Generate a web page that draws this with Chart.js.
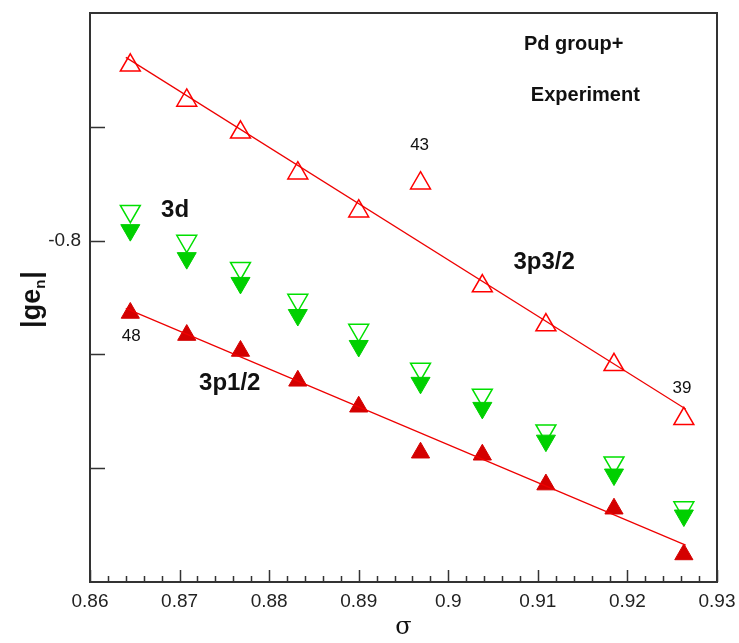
<!DOCTYPE html>
<html>
<head>
<meta charset="UTF-8">
<script src="https://cdn.jsdelivr.net/npm/chart.js@4/dist/chart.umd.min.js"></script>
<style>
body{margin:0;background:#fff}
</style>
</head>
<body>
<canvas id="myChart" width="739" height="643"></canvas>
<script>
// sigma for Z = 48 ... 39
var sigma = [0.8645, 0.8708, 0.8768, 0.8832, 0.8900, 0.8969, 0.9038, 0.9109, 0.9185, 0.9263];
// 3p3/2 open up triangles
var p32 = [-0.7230, -0.7384, -0.7524, -0.7704, -0.7871, -0.7748, -0.8200, -0.8371, -0.8546, -0.8783];
// 3p1/2 filled up triangles
var p12 = [-0.8318, -0.8415, -0.8485, -0.8616, -0.8730, -0.8932, -0.8941, -0.9072, -0.9178, -0.9379];
// 3d open down triangles
var d3open = [-0.7871, -0.8002, -0.8121, -0.8261, -0.8393, -0.8564, -0.8678, -0.8835, -0.8976, -0.9173];
// 3d filled down triangles
var d3fill = [-0.7954, -0.8077, -0.8186, -0.8327, -0.8463, -0.8625, -0.8735, -0.8879, -0.9028, -0.9208];
// fitted lines (end points)
var fitX = [0.8640, 0.9265];
var fit32 = [-0.7195, -0.8740];
var fit12 = [-0.8298, -0.9338];
// ticks
var xTicks = [0.86, 0.87, 0.88, 0.89, 0.90, 0.91, 0.92, 0.93];
var yTicks = [-0.75, -0.8, -0.85, -0.9];
var yLabelled = [-0.8];
// text labels [text, x, y, font]
var notes = [
	["Pd group+", 0.9140, -0.7140, "bold 20px 'Liberation Sans', Arial"],
	["Experiment", 0.9153, -0.7364, "bold 20px 'Liberation Sans', Arial"],
	["3d", 0.8695, -0.7868, "bold 24px 'Liberation Sans', Arial"],
	["3p3/2", 0.9107, -0.8096, "bold 24px 'Liberation Sans', Arial"],
	["3p1/2", 0.8756, -0.8627, "bold 24px 'Liberation Sans', Arial"],
	["43", 0.8968, -0.7583, "17px 'Liberation Sans', Arial"],
	["48", 0.8646, -0.8421, "17px 'Liberation Sans', Arial"],
	["39", 0.9261, -0.8649, "17px 'Liberation Sans', Arial"]
];

function pts(xs, ys){
	var out = [];
	for (var i = 0; i < xs.length; i++) out.push({x: xs[i], y: ys[i]});
	return out;
}

var decor = {
	id: 'decor',
	afterDraw: function(chart){
		var c = chart.ctx, a = chart.chartArea;
		var sx = chart.scales.x, sy = chart.scales.y;
		c.save();
		c.strokeStyle = '#333';
		c.lineWidth = 2;
		c.strokeRect(a.left, a.top, a.right - a.left, a.bottom - a.top);
		c.lineWidth = 1.5;
		c.beginPath();
		// y ticks, inward
		for (var i = 0; i < yTicks.length; i++){
			var py = Math.round(sy.getPixelForValue(yTicks[i])) + 0.5;
			c.moveTo(a.left, py); c.lineTo(a.left + 15, py);
		}
		// x ticks, inward
		for (var k = 0; k <= 35; k++){
			var v = 0.86 + k * 0.002;
			var px = Math.round(sx.getPixelForValue(v)) + 0.5;
			var len = (k % 5 == 0) ? 12 : 6;
			c.moveTo(px, a.bottom); c.lineTo(px, a.bottom - len);
		}
		c.stroke();
		// notes
		c.fillStyle = '#111';
		c.textAlign = 'center';
		c.textBaseline = 'middle';
		for (var j = 0; j < notes.length; j++){
			c.font = notes[j][3];
			c.fillText(notes[j][0], sx.getPixelForValue(notes[j][1]), sy.getPixelForValue(notes[j][2]));
		}
		// x title
		c.font = "24px 'DejaVu Serif', serif";
		c.fillText('σ', (a.left + a.right) / 2, 628);
		// y title, rotated
		c.translate(33, 300);
		c.rotate(-Math.PI / 2);
		c.textAlign = 'left';
		c.font = "bold 27px 'Liberation Sans', Arial";
		var s1 = '|ge';
		var w1 = c.measureText(s1).width;
		c.font = "bold 15px 'Liberation Sans', Arial";
		var w2 = c.measureText('n').width;
		c.font = "bold 27px 'Liberation Sans', Arial";
		var w3 = c.measureText('|').width;
		var x0 = -(w1 + w2 + w3) / 2;
		c.fillText(s1, x0, 0);
		c.font = "bold 15px 'Liberation Sans', Arial";
		c.fillText('n', x0 + w1, 8);
		c.font = "bold 27px 'Liberation Sans', Arial";
		c.fillText('|', x0 + w1 + w2 + 1, 0);
		c.restore();
	}
};

var ctx = document.getElementById("myChart").getContext('2d');
var myChart = new Chart(ctx, {
	type: 'scatter',
	data: {
		datasets: [{
			data: pts(fitX, fit32), showLine: true, pointRadius: 0,
			borderColor: '#ee0000', borderWidth: 1.2
		}, {
			data: pts(fitX, fit12), showLine: true, pointRadius: 0,
			borderColor: '#ee0000', borderWidth: 1.2
		}, {
			data: pts(sigma, p32), pointStyle: 'triangle', pointRadius: 11.5,
			borderColor: '#ff0000', borderWidth: 1.5, backgroundColor: 'rgba(0,0,0,0)'
		}, {
			data: pts(sigma, p12), pointStyle: 'triangle', pointRadius: 10.5,
			borderColor: '#d40000', borderWidth: 1, backgroundColor: '#d40000'
		}, {
			data: pts(sigma, d3fill), pointStyle: 'triangle', pointRotation: 180, pointRadius: 11,
			borderColor: '#00d000', borderWidth: 1, backgroundColor: '#00d000'
		}, {
			data: pts(sigma, d3open), pointStyle: 'triangle', pointRotation: 180, pointRadius: 11.5,
			borderColor: '#00e000', borderWidth: 1.5, backgroundColor: 'rgba(0,0,0,0)'
		}]
	},
	options: {
		responsive: false,
		animation: false,
		layout: {padding: {left: 0, top: 12, right: 22, bottom: 0}},
		plugins: {legend: {display: false}, tooltip: {enabled: false}},
		scales: {
			x: {
				type: 'linear', min: 0.86, max: 0.93,
				afterBuildTicks: function(s){ s.ticks = xTicks.map(function(v){ return {value: v}; }); },
				afterFit: function(s){ s.height = 61; s.paddingLeft = 0; s.paddingRight = 0; },
				grid: {display: false, drawTicks: false},
				border: {display: false},
				ticks: {
					padding: 8, color: '#222', maxRotation: 0, autoSkip: false,
					font: {size: 19, family: "'Liberation Sans', Arial"},
					callback: function(v){ return String(+v.toFixed(2)); }
				}
			},
			y: {
				type: 'linear', min: -0.95, max: -0.7,
				afterBuildTicks: function(s){ s.ticks = yTicks.map(function(v){ return {value: v}; }); },
				afterFit: function(s){ s.width = 90; s.paddingTop = 0; s.paddingBottom = 0; },
				grid: {display: false, drawTicks: false},
				border: {display: false},
				ticks: {
					padding: 9, color: '#222', autoSkip: false,
					font: {size: 19, family: "'Liberation Sans', Arial"},
					callback: function(v){
						for (var i = 0; i < yLabelled.length; i++)
							if (Math.abs(v - yLabelled[i]) < 1e-6) return String(yLabelled[i]);
						return '';
					}
				}
			}
		}
	},
	plugins: [decor]
});
</script>
</body>
</html>
